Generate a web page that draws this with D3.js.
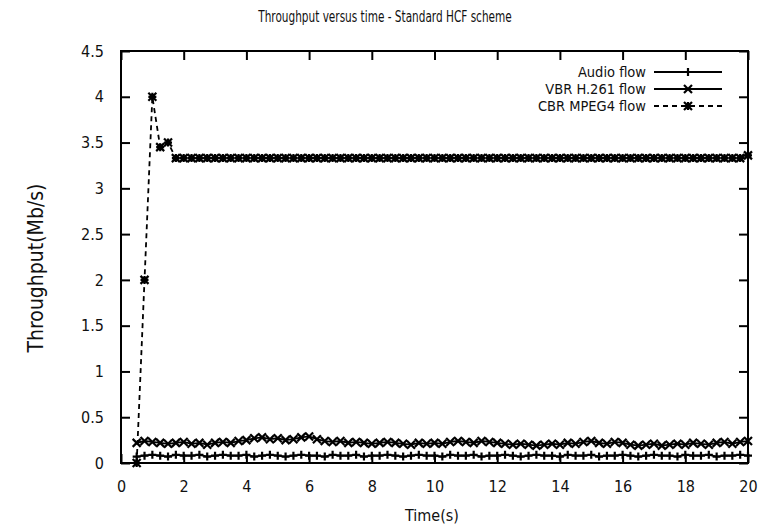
<!DOCTYPE html>
<html>
<head>
<meta charset="utf-8">
<script src="https://cdn.jsdelivr.net/npm/d3@7"></script>
<style>
  html, body { margin: 0; padding: 0; background: #fff; }
  svg text { font-family: "Liberation Sans Narrow", "DejaVu Sans Condensed", "Arial Narrow", sans-serif; fill: #111; }
</style>
</head>
<body>
<svg id="chart" width="771" height="530"></svg>
<script>
// Sampling instants (s)
const times = [0.5,0.75,1,1.25,1.5,1.75,2,2.25,2.5,2.75,3,3.25,3.5,3.75,4,4.25,4.5,4.75,5,5.25,
  5.5,5.75,6,6.25,6.5,6.75,7,7.25,7.5,7.75,8,8.25,8.5,8.75,9,9.25,9.5,9.75,10,10.25,
  10.5,10.75,11,11.25,11.5,11.75,12,12.25,12.5,12.75,13,13.25,13.5,13.75,14,14.25,14.5,14.75,15,15.25,
  15.5,15.75,16,16.25,16.5,16.75,17,17.25,17.5,17.75,18,18.25,18.5,18.75,19,19.25,19.5,19.75,20];

// Throughput of each flow (Mb/s)
const audioFlow = [0.07,0.08,0.09,0.08,0.07,0.09,0.08,0.08,0.09,0.07,0.08,0.09,0.08,0.08,0.09,0.07,0.08,0.09,0.08,0.07,
  0.08,0.09,0.08,0.08,0.07,0.09,0.08,0.08,0.09,0.07,0.08,0.08,0.09,0.08,0.07,0.08,0.09,0.08,0.08,0.07,
  0.09,0.08,0.08,0.09,0.07,0.08,0.08,0.09,0.08,0.07,0.08,0.09,0.08,0.08,0.07,0.09,0.08,0.08,0.09,0.07,
  0.08,0.08,0.09,0.08,0.07,0.08,0.09,0.08,0.08,0.07,0.09,0.08,0.08,0.09,0.07,0.08,0.08,0.09,0.08];
const vbrFlow = [0.22,0.24,0.23,0.22,0.21,0.22,0.23,0.21,0.22,0.20,0.22,0.23,0.22,0.24,0.25,0.27,0.28,0.26,0.27,0.25,
  0.26,0.28,0.29,0.26,0.24,0.23,0.24,0.22,0.23,0.22,0.21,0.22,0.23,0.22,0.21,0.20,0.22,0.21,0.22,0.21,
  0.23,0.24,0.23,0.22,0.24,0.23,0.22,0.21,0.20,0.21,0.20,0.19,0.20,0.21,0.20,0.22,0.21,0.23,0.24,0.22,
  0.21,0.23,0.22,0.20,0.19,0.20,0.21,0.19,0.20,0.21,0.20,0.22,0.21,0.20,0.22,0.23,0.21,0.23,0.24];
const cbrFlow = [0,2,4,3.45,3.5,3.33,3.33,3.33,3.33,3.33,3.33,3.33,3.33,3.33,3.33,3.33,3.33,3.33,3.33,3.33,
  3.33,3.33,3.33,3.33,3.33,3.33,3.33,3.33,3.33,3.33,3.33,3.33,3.33,3.33,3.33,3.33,3.33,3.33,3.33,3.33,
  3.33,3.33,3.33,3.33,3.33,3.33,3.33,3.33,3.33,3.33,3.33,3.33,3.33,3.33,3.33,3.33,3.33,3.33,3.33,3.33,
  3.33,3.33,3.33,3.33,3.33,3.33,3.33,3.33,3.33,3.33,3.33,3.33,3.33,3.33,3.33,3.33,3.33,3.33,3.36];

const seriesNames = ["Audio flow", "VBR H.261 flow", "CBR MPEG4 flow"];
const xTickValues = [0,2,4,6,8,10,12,14,16,18,20];
const yTickValues = [0,0.5,1,1.5,2,2.5,3,3.5,4,4.5];

const titleText = "Throughput versus time - Standard HCF scheme";
const xLabel = "Time(s)";
const yLabel = "Throughput(Mb/s)";

// Layout
const W = 771, H = 530;
const margin = {left: 121, right: 23, top: 51, bottom: 67};
const plotW = W - margin.left - margin.right;
const plotH = H - margin.top - margin.bottom;

const svg = d3.select("#chart");
const g = svg.append("g").attr("transform", `translate(${margin.left},${margin.top})`);

const x = d3.scaleLinear().domain([0, 20]).range([0, plotW]);
const y = d3.scaleLinear().domain([0, 4.5]).range([plotH, 0]);

// Marker shapes: plus, cross, star
const mk = 4;
const markerPaths = [
  `M${-mk},0H${mk}M0,${-mk}V${mk}`,
  `M${-mk},${-mk}L${mk},${mk}M${-mk},${mk}L${mk},${-mk}`,
  `M${-mk},0H${mk}M0,${-mk}V${mk}M${-mk},${-mk}L${mk},${mk}M${-mk},${mk}L${mk},${-mk}`
];
const dashes = [null, null, "5,4"];

const seriesData = [audioFlow, vbrFlow, cbrFlow].map(vals =>
  times.slice(0, vals.length).map((t, i) => ({t, v: vals[i]})));

const line = d3.line().x(d => x(d.t)).y(d => y(d.v));

seriesData.forEach((pts, s) => {
  g.append("path")
    .datum(pts)
    .attr("d", line)
    .attr("fill", "none")
    .attr("stroke", "#000")
    .attr("stroke-width", 1.8)
    .attr("stroke-dasharray", dashes[s]);
  g.append("g").selectAll("path")
    .data(pts)
    .join("path")
    .attr("transform", d => `translate(${x(d.t)},${y(d.v)})`)
    .attr("d", markerPaths[s])
    .attr("fill", "none")
    .attr("stroke", "#000")
    .attr("stroke-width", 2.2);
});

// Axes with mirrored inward ticks
const tickLen = 9;
const xAxisB = d3.axisBottom(x).tickValues(xTickValues).tickFormat(d3.format("d")).tickSize(-tickLen).tickPadding(tickLen + 9);
const xAxisT = d3.axisTop(x).tickValues(xTickValues).tickSize(-tickLen).tickFormat("");
const yAxisL = d3.axisLeft(y).tickValues(yTickValues).tickFormat(d => String(d)).tickSize(-tickLen).tickPadding(tickLen + 8);
const yAxisR = d3.axisRight(y).tickValues(yTickValues).tickSize(-tickLen).tickFormat("");

function styleAxis(sel) {
  sel.select(".domain").remove();
  sel.selectAll("line").attr("stroke", "#000").attr("stroke-width", 2);
  sel.selectAll("text").attr("font-size", 16).attr("font-family", null).attr("fill", "#222");
}
g.append("g").attr("transform", `translate(0,${plotH})`).call(xAxisB).call(styleAxis);
g.append("g").call(xAxisT).call(styleAxis);
g.append("g").call(yAxisL).call(styleAxis);
g.append("g").attr("transform", `translate(${plotW},0)`).call(yAxisR).call(styleAxis);

// Frame
g.append("rect")
  .attr("x", 0).attr("y", 0).attr("width", plotW).attr("height", plotH)
  .attr("fill", "none").attr("stroke", "#000").attr("stroke-width", 2);

// Titles
svg.append("text").attr("transform", "translate(385,22) scale(0.78,1)").attr("text-anchor", "middle")
  .attr("font-size", 15).text(titleText);
svg.append("text").attr("x", 432).attr("y", 521).attr("text-anchor", "middle")
  .attr("font-size", 16).text(xLabel);
svg.append("text").attr("transform", "translate(43,268) rotate(-90)").attr("text-anchor", "middle")
  .attr("font-size", 21).text(yLabel);

// Legend
const legX = 646, legY0 = 72, legDy = 17;
seriesNames.forEach((name, s) => {
  const ly = legY0 + s * legDy;
  svg.append("text").attr("x", legX).attr("y", ly).attr("dy", "0.35em")
    .attr("text-anchor", "end").attr("font-size", 14.5).text(name);
  svg.append("line").attr("x1", legX + 8).attr("x2", legX + 76).attr("y1", ly).attr("y2", ly)
    .attr("stroke", "#000").attr("stroke-width", 1.8).attr("stroke-dasharray", dashes[s]);
  svg.append("path").attr("transform", `translate(${legX + 42},${ly})`).attr("d", markerPaths[s])
    .attr("fill", "none").attr("stroke", "#000").attr("stroke-width", 2.2);
});
</script>
</body>
</html>
